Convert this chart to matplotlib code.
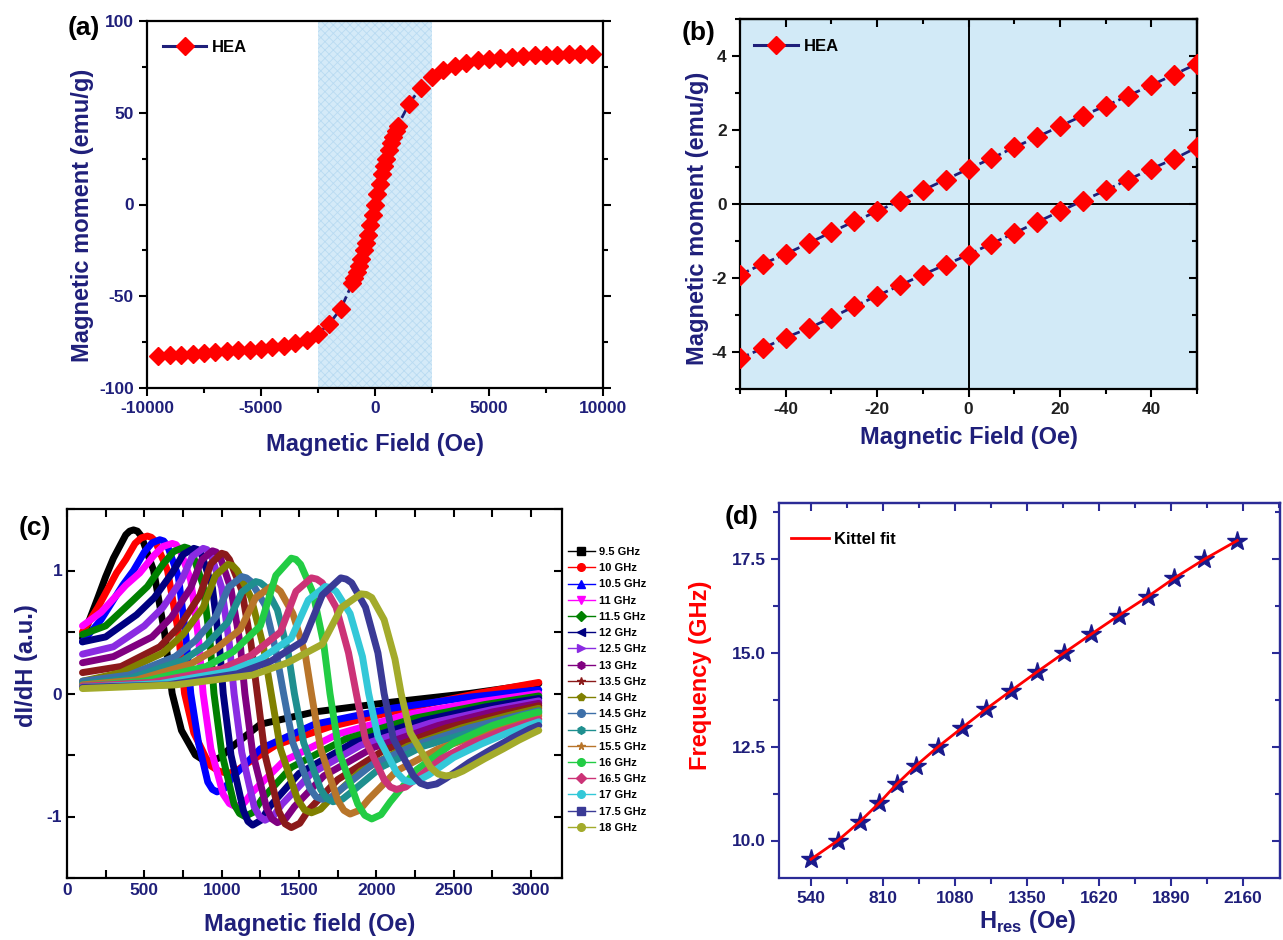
import matplotlib
matplotlib.use('Agg')
import matplotlib.pyplot as plt
from matplotlib.ticker import MultipleLocator, FixedLocator
from matplotlib.lines import Line2D

plt.rcParams['font.family'] = ['Liberation Sans', 'DejaVu Sans']
plt.rcParams['font.weight'] = 'bold'
plt.rcParams['axes.labelweight'] = 'bold'
plt.rcParams['axes.unicode_minus'] = False
plt.rcParams['mathtext.fontset'] = 'custom'
plt.rcParams['mathtext.rm'] = 'Liberation Sans:bold'
plt.rcParams['mathtext.bf'] = 'Liberation Sans:bold'
plt.rcParams['hatch.linewidth'] = 0.6

NAVY = '#1f1f7a'

# ---------------- datos (a): curva M-H completa ----------------
campo_a = [-9500, -9000, -8500, -8000, -7500, -7000, -6500, -6000, -5500, -5000,
           -4500, -4000, -3500, -3000, -2500, -2000, -1500,
           -1000, -900, -800, -700, -600, -500, -400, -300, -200, -100, 0,
           100, 200, 300, 400, 500, 600, 700, 800, 900, 1000,
           1500, 2000, 2500, 3000, 3500, 4000, 4500, 5000, 5500, 6000,
           6500, 7000, 7500, 8000, 8500, 9000, 9500]
momento_a = [-82.4, -82.0, -81.8, -81.5, -81.1, -80.5, -80.0, -79.5, -79.1, -78.5,
             -77.8, -76.9, -75.5, -73.6, -70.4, -64.9, -56.9,
             -43.0, -40.0, -37.0, -33.5, -29.5, -25.0, -21.0, -16.5, -11.0, -5.5, 0.0,
             5.5, 11.0, 16.5, 21.0, 25.0, 29.5, 33.5, 37.0, 40.0, 43.0,
             55.0, 63.6, 69.6, 73.3, 75.5, 77.3, 78.5, 79.3, 79.8, 80.4,
             80.9, 81.3, 81.5, 81.6, 81.8, 82.0, 82.2]
zona_sombreada = [-2500, 2500]

# ---------------- datos (b): zoom del lazo ----------------
campo_b = [-50, -45, -40, -35, -30, -25, -20, -15, -10, -5, 0,
           5, 10, 15, 20, 25, 30, 35, 40, 45, 50]
rama_sup = [-1.91, -1.62, -1.35, -1.06, -0.76, -0.47, -0.20, 0.09, 0.37, 0.66, 0.95,
            1.23, 1.53, 1.81, 2.10, 2.39, 2.65, 2.93, 3.21, 3.50, 3.79]
rama_inf = [-4.17, -3.90, -3.61, -3.36, -3.07, -2.77, -2.48, -2.20, -1.91, -1.64, -1.37,
            -1.07, -0.79, -0.49, -0.20, 0.09, 0.37, 0.66, 0.95, 1.22, 1.53]

# ---------------- datos (c): espectros FMR ----------------
etiquetas_c = ['9.5 GHz', '10 GHz', '10.5 GHz', '11 GHz', '11.5 GHz', '12 GHz',
               '12.5 GHz', '13 GHz', '13.5 GHz', '14 GHz', '14.5 GHz', '15 GHz',
               '15.5 GHz', '16 GHz', '16.5 GHz', '17 GHz', '17.5 GHz', '18 GHz']
colores_c = ['#000000', '#ff0000', '#0000ff', '#ff00ff', '#008000', '#000080',
             '#8a2be2', '#800080', '#8b1a1a', '#808000', '#3d6fa8', '#1f8f8f',
             '#b8752a', '#22cc44', '#cc3377', '#33c8d8', '#3a3a96', '#a3ab2b']
marcadores_c = ['s', 'o', '^', 'v', 'D', '<', '>', 'h', '*', 'p',
                'o', 'h', '*', 'o', 'D', 'o', 's', 'o']

campo_c = [
    [100, 200, 250, 300, 380, 405, 430, 455, 480, 560, 630, 680, 740, 830, 880, 930, 990, 1050, 1250, 1600, 2100, 2600, 3050],
    [100, 200, 320, 380, 440, 480, 520, 545, 570, 650, 720, 760, 820, 920, 980, 1040, 1095, 1150, 1350, 1700, 2200, 2650, 3050],
    [100, 220, 360, 430, 500, 550, 600, 625, 650, 720, 770, 800, 850, 910, 940, 970, 1020, 1070, 1250, 1600, 2100, 2600, 3050],
    [100, 220, 380, 470, 560, 620, 680, 705, 730, 800, 850, 880, 930, 1010, 1050, 1090, 1145, 1200, 1400, 1750, 2200, 2650, 3050],
    [100, 250, 420, 520, 620, 690, 760, 785, 810, 880, 925, 950, 1000, 1080, 1115, 1150, 1205, 1260, 1450, 1800, 2250, 2700, 3050],
    [100, 250, 450, 565, 680, 750, 820, 845, 870, 940, 985, 1010, 1060, 1140, 1170, 1200, 1255, 1310, 1500, 1850, 2300, 2700, 3050],
    [100, 300, 500, 620, 740, 810, 880, 905, 930, 1000, 1050, 1080, 1130, 1210, 1245, 1280, 1335, 1390, 1580, 1900, 2350, 2750, 3050],
    [100, 300, 550, 675, 800, 870, 940, 965, 990, 1060, 1120, 1150, 1200, 1290, 1325, 1360, 1415, 1470, 1660, 1980, 2400, 2750, 3050],
    [100, 350, 600, 730, 860, 930, 1000, 1025, 1050, 1130, 1190, 1230, 1280, 1370, 1410, 1450, 1505, 1560, 1750, 2050, 2450, 2800, 3050],
    [100, 350, 620, 750, 880, 960, 1040, 1070, 1100, 1190, 1270, 1320, 1380, 1490, 1535, 1580, 1640, 1700, 1900, 2200, 2550, 2850, 3050],
    [100, 400, 700, 830, 960, 1045, 1130, 1160, 1190, 1280, 1350, 1400, 1460, 1570, 1610, 1650, 1710, 1770, 1970, 2250, 2600, 2880, 3050],
    [100, 400, 750, 895, 1040, 1130, 1220, 1250, 1280, 1360, 1430, 1470, 1530, 1640, 1680, 1720, 1780, 1840, 2030, 2300, 2650, 2900, 3050],
    [100, 450, 800, 960, 1120, 1220, 1320, 1350, 1380, 1460, 1540, 1580, 1640, 1750, 1790, 1830, 1890, 1950, 2130, 2400, 2700, 2920, 3050],
    [100, 500, 900, 1075, 1250, 1350, 1450, 1480, 1510, 1590, 1660, 1700, 1760, 1880, 1925, 1970, 2030, 2090, 2260, 2500, 2750, 2950, 3050],
    [100, 550, 1000, 1190, 1380, 1480, 1580, 1615, 1650, 1740, 1820, 1870, 1930, 2050, 2090, 2130, 2190, 2250, 2420, 2620, 2820, 2970, 3050],
    [100, 600, 1050, 1250, 1450, 1560, 1670, 1705, 1740, 1830, 1910, 1950, 2010, 2130, 2175, 2220, 2280, 2340, 2500, 2680, 2850, 2980, 3050],
    [100, 650, 1100, 1315, 1530, 1650, 1770, 1805, 1840, 1930, 2010, 2050, 2110, 2240, 2285, 2330, 2390, 2450, 2600, 2750, 2880, 2990, 3050],
    [100, 700, 1200, 1425, 1650, 1775, 1900, 1935, 1970, 2050, 2120, 2160, 2220, 2350, 2400, 2450, 2505, 2560, 2700, 2820, 2920, 3000, 3050],
]
senal_c = [
    [0.45, 0.78, 0.95, 1.10, 1.29, 1.32, 1.33, 1.32, 1.28, 1.00, 0.50, 0.00, -0.30, -0.50, -0.54, -0.55, -0.52, -0.45, -0.25, -0.15, -0.07, 0.00, 0.08],
    [0.50, 0.70, 0.98, 1.09, 1.22, 1.265, 1.28, 1.27, 1.24, 1.00, 0.50, 0.00, -0.32, -0.58, -0.63, -0.65, -0.63, -0.58, -0.42, -0.27, -0.12, 0.00, 0.09],
    [0.42, 0.60, 0.88, 1.00, 1.15, 1.225, 1.25, 1.24, 1.20, 0.95, 0.45, 0.00, -0.40, -0.72, -0.78, -0.80, -0.77, -0.68, -0.45, -0.25, -0.12, -0.03, 0.03],
    [0.55, 0.66, 0.88, 0.98, 1.12, 1.195, 1.22, 1.21, 1.17, 0.92, 0.45, 0.00, -0.45, -0.82, -0.895, -0.92, -0.89, -0.80, -0.55, -0.33, -0.17, -0.07, 0.00],
    [0.48, 0.55, 0.75, 0.87, 1.05, 1.155, 1.19, 1.18, 1.14, 0.88, 0.42, 0.00, -0.48, -0.90, -0.975, -1.00, -0.965, -0.86, -0.60, -0.37, -0.20, -0.09, -0.02],
    [0.42, 0.46, 0.64, 0.78, 0.98, 1.13, 1.18, 1.17, 1.13, 0.86, 0.40, 0.00, -0.50, -0.95, -1.04, -1.07, -1.03, -0.92, -0.65, -0.40, -0.22, -0.11, -0.04],
    [0.32, 0.38, 0.55, 0.70, 0.92, 1.115, 1.18, 1.17, 1.13, 0.86, 0.40, 0.00, -0.48, -0.92, -1.00, -1.03, -0.995, -0.90, -0.65, -0.42, -0.24, -0.13, -0.06],
    [0.25, 0.30, 0.46, 0.62, 0.86, 1.085, 1.16, 1.15, 1.11, 0.85, 0.40, 0.00, -0.48, -0.93, -1.02, -1.05, -1.015, -0.92, -0.67, -0.44, -0.26, -0.15, -0.08],
    [0.17, 0.22, 0.38, 0.55, 0.80, 1.055, 1.14, 1.13, 1.09, 0.84, 0.40, 0.00, -0.50, -0.96, -1.06, -1.09, -1.055, -0.95, -0.70, -0.46, -0.28, -0.17, -0.10],
    [0.10, 0.17, 0.33, 0.48, 0.70, 0.96, 1.05, 1.04, 1.00, 0.78, 0.38, 0.00, -0.45, -0.86, -0.945, -0.97, -0.94, -0.86, -0.63, -0.43, -0.28, -0.18, -0.12],
    [0.10, 0.15, 0.30, 0.43, 0.62, 0.865, 0.95, 0.94, 0.91, 0.72, 0.35, 0.00, -0.40, -0.77, -0.84, -0.86, -0.84, -0.78, -0.58, -0.42, -0.28, -0.19, -0.14],
    [0.08, 0.12, 0.27, 0.39, 0.58, 0.825, 0.91, 0.90, 0.87, 0.68, 0.33, 0.00, -0.40, -0.78, -0.855, -0.88, -0.86, -0.80, -0.60, -0.43, -0.30, -0.21, -0.16],
    [0.07, 0.11, 0.24, 0.36, 0.52, 0.78, 0.87, 0.86, 0.83, 0.65, 0.32, 0.00, -0.45, -0.87, -0.95, -0.98, -0.95, -0.86, -0.63, -0.45, -0.32, -0.23, -0.18],
    [0.06, 0.10, 0.22, 0.34, 0.55, 0.96, 1.10, 1.09, 1.05, 0.82, 0.40, 0.00, -0.48, -0.90, -0.99, -1.02, -0.985, -0.88, -0.62, -0.40, -0.26, -0.18, -0.15],
    [0.06, 0.09, 0.20, 0.31, 0.50, 0.83, 0.94, 0.93, 0.90, 0.70, 0.33, 0.00, -0.38, -0.70, -0.76, -0.78, -0.76, -0.70, -0.53, -0.40, -0.30, -0.24, -0.21],
    [0.05, 0.08, 0.18, 0.28, 0.45, 0.76, 0.87, 0.86, 0.83, 0.65, 0.30, 0.00, -0.35, -0.64, -0.70, -0.72, -0.70, -0.66, -0.52, -0.41, -0.32, -0.26, -0.23],
    [0.05, 0.07, 0.16, 0.26, 0.43, 0.80, 0.94, 0.93, 0.90, 0.70, 0.33, 0.00, -0.37, -0.67, -0.73, -0.75, -0.735, -0.69, -0.56, -0.45, -0.36, -0.29, -0.26],
    [0.04, 0.07, 0.15, 0.25, 0.40, 0.70, 0.81, 0.805, 0.78, 0.60, 0.28, 0.00, -0.32, -0.60, -0.655, -0.67, -0.66, -0.63, -0.53, -0.45, -0.38, -0.33, -0.30],
]

# ---------------- datos (d): Kittel ----------------
campo_res = [540, 641, 723, 796, 861, 935, 1017, 1106, 1196, 1292,
             1389, 1489, 1591, 1695, 1803, 1904, 2016, 2140]
frecuencia = [9.5, 10.0, 10.5, 11.0, 11.5, 12.0, 12.5, 13.0, 13.5, 14.0,
              14.5, 15.0, 15.5, 16.0, 16.5, 17.0, 17.5, 18.0]

W, H = 1283, 940
fig = plt.figure(figsize=(W / 100, H / 100), dpi=100)


def caja(izq, der, arr, aba):
    return [izq / W, 1 - aba / H, (der - izq) / W, (aba - arr) / H]


def ticks_espejo(ax, xmaj, xmin, ymaj, ymin, color):
    # ticks hacia dentro en los lados superior y derecho
    sx = ax.secondary_xaxis('top')
    sx.xaxis.set_major_locator(MultipleLocator(xmaj))
    sx.xaxis.set_minor_locator(MultipleLocator(xmin))
    sx.tick_params(which='both', direction='in', labeltop=False, color=color, width=1.5)
    sx.tick_params(which='major', length=6)
    sx.tick_params(which='minor', length=3.5)
    sy = ax.secondary_yaxis('right')
    sy.yaxis.set_major_locator(MultipleLocator(ymaj))
    sy.yaxis.set_minor_locator(MultipleLocator(ymin))
    sy.tick_params(which='both', direction='in', labelright=False, color=color, width=1.5)
    sy.tick_params(which='major', length=6)
    sy.tick_params(which='minor', length=3.5)
    for s in list(sx.spines.values()) + list(sy.spines.values()):
        s.set_color(color)
        s.set_linewidth(1.6)


# ================= (a) =================
ax1 = fig.add_axes(caja(147, 603, 21, 388))
ax1.axvspan(zona_sombreada[0], zona_sombreada[1], facecolor='#d4eaf8',
            edgecolor='#b9dbf2', hatch='xxxx', linewidth=0, zorder=0)
ax1.plot(campo_a, momento_a, color=NAVY, lw=2, ls=(0, (4, 1.5)), marker='D',
         ms=9, mfc='red', mec='red', zorder=3)
ax1.set_xlim(-10000, 10000)
ax1.set_ylim(-100, 100)
ax1.xaxis.set_major_locator(MultipleLocator(5000))
ax1.xaxis.set_minor_locator(MultipleLocator(2500))
ax1.yaxis.set_major_locator(MultipleLocator(50))
ax1.yaxis.set_minor_locator(MultipleLocator(25))
ax1.tick_params(which='both', direction='out', width=1.5, labelsize=12.5,
                labelcolor=NAVY, right=True)
ax1.tick_params(which='major', length=6)
ax1.tick_params(which='minor', length=3.5)
ax1.set_xlabel('Magnetic Field (Oe)', fontsize=17, color=NAVY)
ax1.set_ylabel('Magnetic moment (emu/g)', fontsize=17, color=NAVY)
ax1.xaxis.set_label_coords(0.5, -0.155)
ax1.yaxis.set_label_coords(-0.1425, 0.47)
ax1.xaxis.label.set_va('center')
ax1.yaxis.label.set_va('center')
h_a = Line2D([], [], color=NAVY, lw=2.2, marker='D', ms=9, mfc='red', mec='red')
ax1.legend([h_a], ['HEA'], loc='upper left', bbox_to_anchor=(0.035, 0.948),
           frameon=False, borderpad=0, borderaxespad=0, handlelength=2.6,
           handletextpad=0.36, prop={'size': 12, 'weight': 'bold'})
for s in ax1.spines.values():
    s.set_linewidth(1.6)
fig.text(84 / W, 1 - 28 / H, '(a)', fontsize=19, ha='center', va='center')

# ================= (b) =================
ax2 = fig.add_axes(caja(740, 1197, 19, 389))
ax2.set_facecolor('#d2eaf7')
ax2.axhline(0, color='black', lw=1.4, zorder=1)
ax2.axvline(0, color='black', lw=1.4, zorder=1)
for rama in (rama_sup, rama_inf):
    ax2.plot(campo_b, rama, color=NAVY, lw=2, ls=(0, (3.5, 1.5)), marker='D',
             ms=10, mfc='red', mec='red', zorder=3)
ax2.set_xlim(-50, 50)
ax2.set_ylim(-5, 5)
ax2.xaxis.set_major_locator(MultipleLocator(20))
ax2.xaxis.set_minor_locator(MultipleLocator(10))
ax2.yaxis.set_major_locator(MultipleLocator(2))
ax2.yaxis.set_minor_locator(MultipleLocator(1))
ax2.tick_params(which='both', direction='out', width=1.5, labelsize=12.5,
                labelcolor='#202020')
ax2.tick_params(which='major', length=6)
ax2.tick_params(which='minor', length=3.5)
ticks_espejo(ax2, 20, 10, 2, 1, 'black')
ax2.set_xlabel('Magnetic Field (Oe)', fontsize=17, color=NAVY)
ax2.set_ylabel('Magnetic moment (emu/g)', fontsize=17, color=NAVY)
ax2.xaxis.set_label_coords(0.5, -0.13)
ax2.yaxis.set_label_coords(-0.094, 0.46)
ax2.xaxis.label.set_va('center')
ax2.yaxis.label.set_va('center')
ax2.legend([h_a], ['HEA'], loc='upper left', bbox_to_anchor=(0.031, 0.946),
           frameon=False, borderpad=0, borderaxespad=0, handlelength=2.6,
           handletextpad=0.36, prop={'size': 12, 'weight': 'bold'})
for s in ax2.spines.values():
    s.set_linewidth(1.6)
fig.text(699 / W, 1 - 33 / H, '(b)', fontsize=19, ha='center', va='center')

# ================= (c) =================
ax3 = fig.add_axes(caja(67, 562, 509, 878))
manijas = []
for xs, ys, c, mk in zip(campo_c, senal_c, colores_c, marcadores_c):
    ax3.plot(xs, ys, color=c, lw=5, solid_joinstyle='round', solid_capstyle='round')
    manijas.append(Line2D([], [], color=c, lw=1, marker=mk, ms=5.5))
ax3.set_xlim(0, 3200)
ax3.set_ylim(-1.5, 1.5)
ax3.xaxis.set_major_locator(FixedLocator([0, 500, 1000, 1500, 2000, 2500, 3000]))
ax3.xaxis.set_minor_locator(MultipleLocator(250))
ax3.yaxis.set_major_locator(FixedLocator([-1, 0, 1]))
ax3.yaxis.set_minor_locator(MultipleLocator(0.5))
ax3.tick_params(which='both', direction='in', width=1.5, labelsize=12.5,
                labelcolor=NAVY, top=True, right=True)
ax3.tick_params(which='major', length=6)
ax3.tick_params(which='minor', length=6)
ax3.set_xlabel('Magnetic field (Oe)', fontsize=17, color=NAVY)
ax3.set_ylabel('dI/dH (a.u.)', fontsize=17, color=NAVY)
ax3.xaxis.set_label_coords(0.49, -0.127)
ax3.yaxis.set_label_coords(-0.082, 0.575)
ax3.xaxis.label.set_va('center')
ax3.yaxis.label.set_va('center')
for s in ax3.spines.values():
    s.set_linewidth(1.6)
fig.legend(manijas, etiquetas_c, loc='upper left', bbox_to_anchor=(568 / W, 1 - 547 / H),
           frameon=False, borderpad=0, borderaxespad=0, handlelength=2.4,
           handletextpad=0.4, labelspacing=0.56, prop={'size': 8, 'weight': 'bold'})
fig.text(35 / W, 1 - 528 / H, '(c)', fontsize=19, ha='center', va='center')

# ================= (d) =================
AZUL_D = '#2b2b96'
ax4 = fig.add_axes(caja(779, 1280, 503, 878))
ax4.plot(campo_res, frecuencia, ls='none', marker='*', ms=15, color='#1a1a8c', zorder=2)
ax4.plot(campo_res, frecuencia, color='red', lw=2, zorder=3, label='Kittel fit')
ax4.set_xlim(420, 2300)
ax4.set_ylim(9, 19)
ax4.xaxis.set_major_locator(FixedLocator([540, 810, 1080, 1350, 1620, 1890, 2160]))
ax4.xaxis.set_minor_locator(FixedLocator([675, 945, 1215, 1485, 1755, 2025]))
ax4.yaxis.set_major_locator(FixedLocator([10, 12.5, 15, 17.5]))
ax4.yaxis.set_minor_locator(FixedLocator([11.25, 13.75, 16.25, 18.75]))
ax4.yaxis.set_major_formatter(plt.FormatStrFormatter('%.1f'))
ax4.tick_params(which='both', direction='out', width=1.5, labelsize=12.5,
                labelcolor=NAVY, color=AZUL_D)
ax4.tick_params(which='major', length=6)
ax4.tick_params(which='minor', length=4)
ticks_espejo(ax4, 270, 135, 2.5, 1.25, AZUL_D)
ax4.set_xlabel(r'H$_\mathrm{res}$ (Oe)', fontsize=17, color=NAVY)
ax4.set_ylabel('Frequency (GHz)', fontsize=17, color='red')
ax4.xaxis.set_label_coords(0.497, -0.117)
ax4.yaxis.set_label_coords(-0.156, 0.54)
ax4.xaxis.label.set_va('center')
ax4.yaxis.label.set_va('center')
ax4.legend(loc='upper left', bbox_to_anchor=(0.024, 0.923), frameon=False,
           borderpad=0, borderaxespad=0, handlelength=2.3, handletextpad=0.3,
           prop={'size': 12, 'weight': 'bold'})
for s in ax4.spines.values():
    s.set_color(AZUL_D)
    s.set_linewidth(1.6)
fig.text(742 / W, 1 - 517 / H, '(d)', fontsize=19, ha='center', va='center')

fig.savefig('out.png', dpi=100)
